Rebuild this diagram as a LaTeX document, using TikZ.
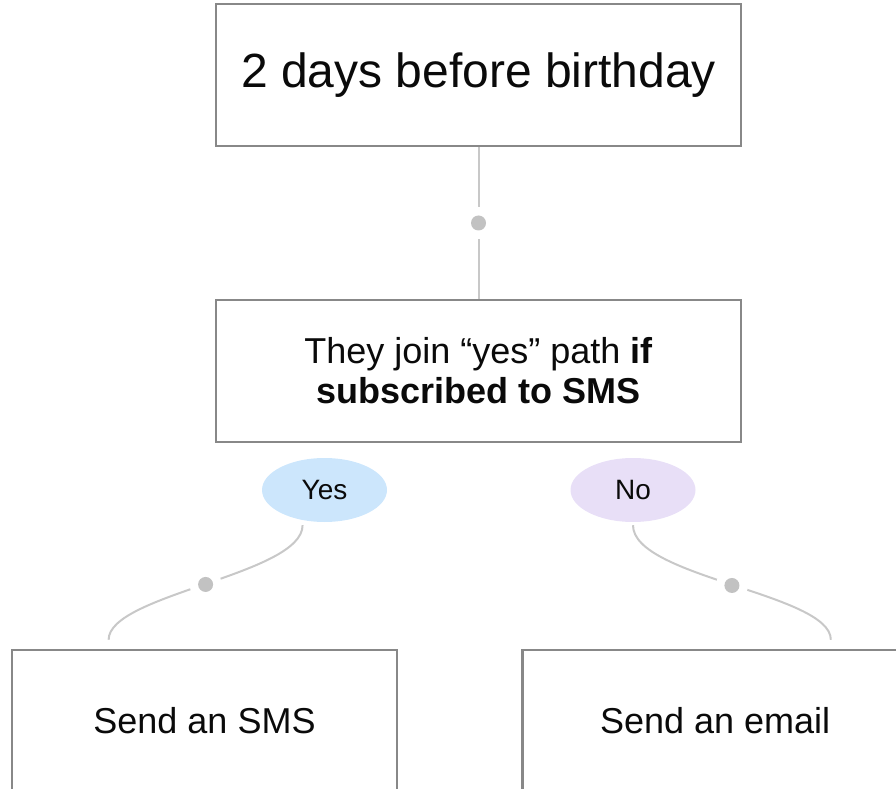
\documentclass[tikz,border=0pt]{standalone}
\usepackage{fontspec}
\setmainfont{Liberation Sans}
\usetikzlibrary{shapes.geometric}
\definecolor{boxline}{HTML}{888888}
\definecolor{connc}{HTML}{C8C8C8}
\definecolor{dotc}{HTML}{C2C2C2}
\definecolor{yesfill}{HTML}{CCE6FC}
\definecolor{nofill}{HTML}{E8DFF7}
\definecolor{txt}{HTML}{0A0A0A}
\begin{document}
\begin{tikzpicture}[x=1pt,y=1pt,
  box/.style={draw=boxline, line width=2.5pt, rectangle, minimum width=525pt,
    minimum height=142pt, inner sep=0pt, align=center, text=txt},
  leafbox/.style={box, minimum width=385pt},
  choice/.style={ellipse, minimum width=125pt, minimum height=64pt, inner sep=0pt,
    text=txt, font=\fontsize{28}{32}\selectfont},
  connector/.style={draw=connc, line width=2pt},
  gapnode/.style={circle, fill=white, minimum size=32pt, inner sep=0pt},
  dotnode/.style={circle, fill=dotc, minimum size=15pt, inner sep=0pt}]
\useasboundingbox (0,0) rectangle (896,788);
\clip (0,0) rectangle (896,788);

\node[box, font=\fontsize{48}{56}\selectfont] (start) at (478.5,713) {2 days before birthday};
\node[box, font=\fontsize{36}{40}\selectfont] (cond) at (478.5,417)
  {They join “yes” path \textbf{if}\\ \textbf{subscribed to SMS}};

\node[choice, fill=yesfill] (yes) at (324.5,298) {Yes};
\node[choice, fill=nofill] (no) at (633,298) {No};

\node[leafbox, font=\fontsize{36}{42}\selectfont] (sms) at (204.5,67) {Send an SMS};
\node[leafbox, font=\fontsize{36}{42}\selectfont] (email) at (715.2,67) {Send an email};

\draw[connector] (start) -- (cond)
  node[gapnode, pos=0.5] {} node[dotnode, pos=0.5] {};

\draw[connector, shorten <=5pt, shorten >=9pt] (yes.234)
  to[out=-90, in=90, looseness=0.6]
  node[gapnode, pos=0.5] {} node[dotnode, pos=0.5] {}
  (sms.143.66);

\draw[connector, shorten <=3pt, shorten >=9pt] (no.south)
  to[out=-90, in=90, looseness=0.6]
  node[gapnode, pos=0.5] {} node[dotnode, pos=0.5] {}
  (email.32.6);
\end{tikzpicture}
\end{document}
